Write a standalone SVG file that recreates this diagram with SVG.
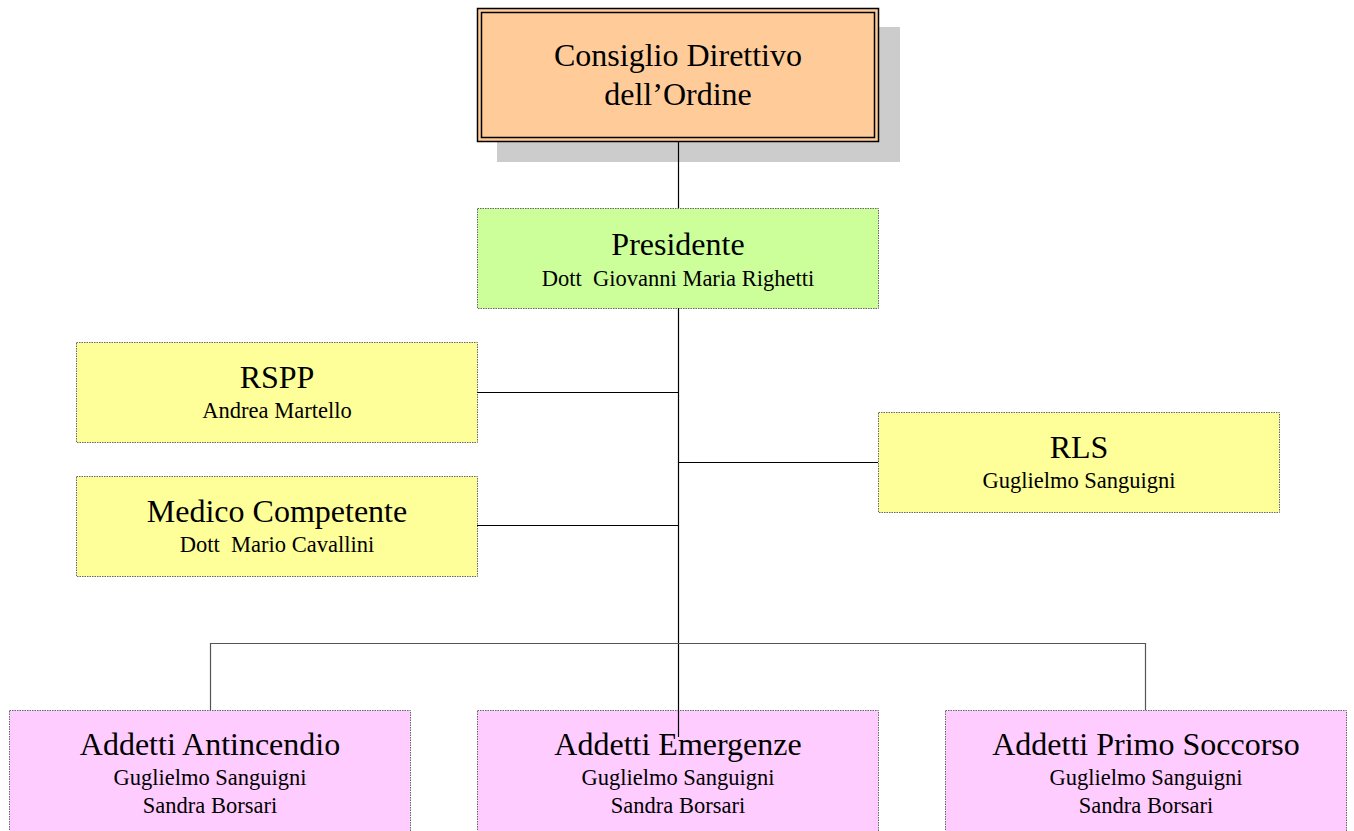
<svg xmlns="http://www.w3.org/2000/svg" width="1354" height="831" viewBox="0 0 1354 831">
<style>
.t{font-family:"Liberation Serif","Times New Roman",serif;fill:#000;text-anchor:middle}
.h{font-size:32px}
.s{font-size:22.5px}
.box{stroke:#666;stroke-width:1;stroke-dasharray:1.5,1}
.ln{stroke:#000;stroke-width:1.2;fill:none}
.bus{stroke:#555;stroke-width:1.2;fill:none}
</style>
<rect width="1354" height="831" fill="#fff"/>
<g id="consiglio">
<rect x="497" y="27" width="403" height="135" fill="#cccccc"/>
<rect x="477.5" y="8.5" width="401" height="133" fill="#ffcc99" stroke="#000" stroke-width="1.5"/>
<rect x="481.5" y="12.5" width="393" height="125" fill="none" stroke="#000" stroke-width="1.5"/>
<text class="t h" x="678" y="66">Consiglio Direttivo</text>
<text class="t h" x="678" y="105">dell’Ordine</text>
</g>
<g id="presidente">
<rect class="box" x="477.5" y="208.5" width="401" height="100" fill="#ccff99"/>
<text class="t h" x="678" y="255">Presidente</text>
<text class="t s" x="678" y="286" xml:space="preserve">Dott  Giovanni Maria Righetti</text>
</g>
<g id="rspp">
<rect class="box" x="76.5" y="342.5" width="401" height="100" fill="#ffff99"/>
<text class="t h" x="277" y="388">RSPP</text>
<text class="t s" x="277" y="418">Andrea Martello</text>
</g>
<g id="medico">
<rect class="box" x="76.5" y="476.5" width="401" height="100" fill="#ffff99"/>
<text class="t h" x="277" y="522">Medico Competente</text>
<text class="t s" x="277" y="552" xml:space="preserve">Dott  Mario Cavallini</text>
</g>
<g id="rls">
<rect class="box" x="878.5" y="412.5" width="401" height="100" fill="#ffff99"/>
<text class="t h" x="1079" y="458">RLS</text>
<text class="t s" x="1079" y="488">Guglielmo Sanguigni</text>
</g>
<g id="antincendio">
<rect class="box" x="9.5" y="710.5" width="401" height="130" fill="#ffccff"/>
<text class="t h" x="210" y="755">Addetti Antincendio</text>
<text class="t s" x="210" y="785">Guglielmo Sanguigni</text>
<text class="t s" x="210" y="813">Sandra Borsari</text>
</g>
<g id="emergenze">
<rect class="box" x="477.5" y="710.5" width="401" height="130" fill="#ffccff"/>
<text class="t h" x="678" y="755">Addetti Emergenze</text>
<text class="t s" x="678" y="785">Guglielmo Sanguigni</text>
<text class="t s" x="678" y="813">Sandra Borsari</text>
</g>
<g id="primosoccorso">
<rect class="box" x="945.5" y="710.5" width="401" height="130" fill="#ffccff"/>
<text class="t h" x="1146" y="755">Addetti Primo Soccorso</text>
<text class="t s" x="1146" y="785">Guglielmo Sanguigni</text>
<text class="t s" x="1146" y="813">Sandra Borsari</text>
</g>
<g id="connectors">
<line class="ln" x1="678.5" y1="142" x2="678.5" y2="208"/>
<line class="ln" x1="678.5" y1="308" x2="678.5" y2="737"/>
<line class="ln" x1="477" y1="392.5" x2="678.5" y2="392.5"/>
<line class="ln" x1="477" y1="525.5" x2="678.5" y2="525.5"/>
<line class="ln" x1="678.5" y1="462.5" x2="878" y2="462.5"/>
<polyline class="bus" points="210.5,710 210.5,643.5 1145.5,643.5 1145.5,710"/>
</g>
</svg>
